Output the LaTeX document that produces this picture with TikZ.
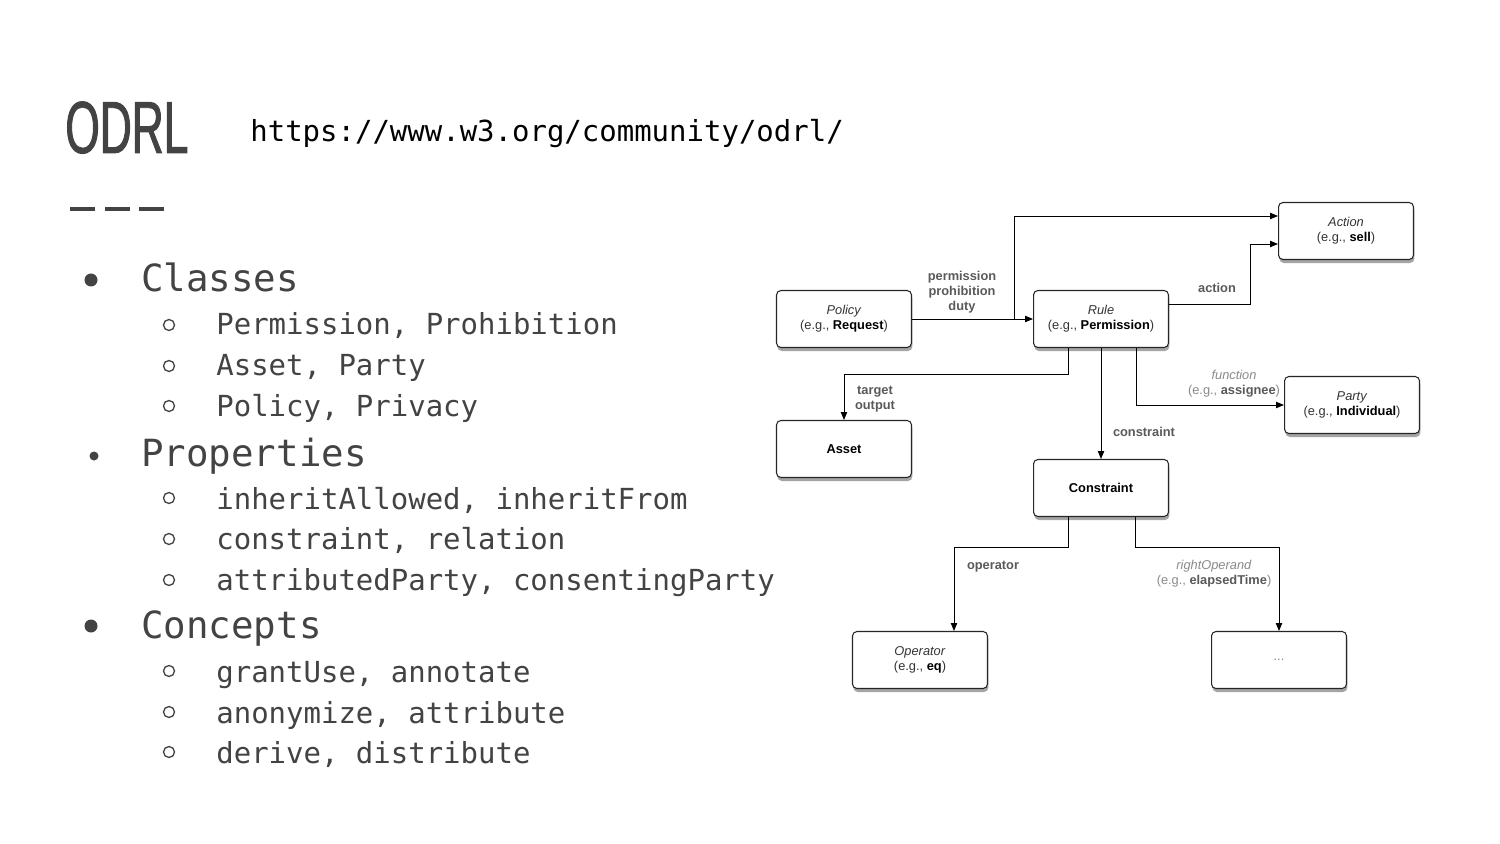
\documentclass[tikz,border=0pt]{standalone}
\usepackage{fontspec}
\setmainfont{Liberation Sans}
\newfontfamily\codefont{DejaVu Sans Mono}
\newfontfamily\titlefont[FakeStretch=0.6,FakeBold=1.2]{Liberation Sans}
\usetikzlibrary{arrows.meta,shadows,calc}
\definecolor{txt}{HTML}{434343}
\definecolor{lbl}{HTML}{5A5A5A}
\definecolor{lite}{HTML}{8A8A8A}
\definecolor{boxtxt}{HTML}{333333}
\begin{document}
\begin{tikzpicture}[x=0.02cm,y=-0.02cm,
  box/.style={draw=black!85, line width=0.6pt, rounded corners=2.5pt, fill=white,
    minimum width=2.7cm, minimum height=1.14cm, align=center, text=boxtxt,
    font=\fontsize{7.3}{8.6}\selectfont, inner sep=1pt,
    drop shadow={shadow xshift=0.5pt, shadow yshift=-2pt, opacity=0.5, fill=black!70}},
  arr/.style={draw=black, line width=0.55pt, -{Triangle[length=4.5pt,width=3.6pt]}},
  lab/.style={text=lbl, font=\fontsize{7.3}{8.5}\selectfont\bfseries, align=center, inner sep=0pt},
  ilab/.style={text=lite, font=\fontsize{7.3}{8.5}\selectfont, align=center, inner sep=0pt},
  item/.style={anchor=base west, text=txt, inner sep=0pt},
  big/.style={item, font=\codefont\fontsize{21.3}{25}\selectfont},
  small/.style={item, font=\codefont\fontsize{16.5}{20}\selectfont},
  dot/.style={fill=txt, draw=none},
  ring/.style={draw=txt, line width=0.75pt},
]
\useasboundingbox[fill=white] (0,0) rectangle (1500,844);

% title
\node[anchor=base west, inner sep=0pt, text=txt, font=\titlefont\fontsize{42}{46}\selectfont] (title) at (65,153) {ODRL};
\node[anchor=base west, inner sep=0pt, text=black, font=\codefont\fontsize{16.5}{20}\selectfont] (url) at (250,142) {https://www.w3.org/community/odrl/};
\foreach \a/\b in {70/95,105/130,139/164}
  \draw[txt, line width=2.3pt] (\a,209) -- (\b,209);

% bullets
\fill[dot] (91,280) circle (6.5);
\fill[dot] (94,456) circle (4.5);
\fill[dot] (91,626) circle (6.5);
\foreach \y in {325,366,406,498,539,580,671,712,752}
  \draw[ring] (169,\y) circle (5.5);

\node[big] (b1) at (141,292) {Classes};
\node[small] (s11) at (216,335) {Permission, Prohibition};
\node[small] (s12) at (216,376) {Asset, Party};
\node[small] (s13) at (216,416) {Policy, Privacy};
\node[big] (b2) at (141,466) {Properties};
\node[small] (s21) at (216,509) {inheritAllowed, inheritFrom};
\node[small] (s22) at (216,549) {constraint, relation};
\node[small] (s23) at (216,590) {attributedParty, consentingParty};
\node[big] (b3) at (141,638) {Concepts};
\node[small] (s31) at (216,682) {grantUse, annotate};
\node[small] (s32) at (216,723) {anonymize, attribute};
\node[small] (s33) at (216,763) {derive, distribute};

% diagram boxes
\node[box] (action) at (1346,231) {\textit{Action}\\(e.g., \textbf{\color{black}sell})};
\node[box] (policy) at (844,319) {\textit{Policy}\\(e.g., \textbf{\color{black}Request})};
\node[box] (rule) at (1101,319) {\textit{Rule}\\(e.g., \textbf{\color{black}Permission})};
\node[box] (asset) at (844,449) {\textbf{\color{black}Asset}};
\node[box] (party) at (1352,405) {\textit{Party}\\(e.g., \textbf{\color{black}Individual})};
\node[box] (constraint) at (1101,488) {\textbf{\color{black}Constraint}};
\node[box] (operator) at (920,660) {\textit{Operator}\\(e.g., \textbf{\color{black}eq})};
\node[box] (more) at (1279,660) {\textcolor{lite}{...}};

% connectors
\draw[arr] (policy) -- (rule);
\coordinate (split) at (1014,319);
\draw[arr] (split) |- ($(action.west)+(0,-15)$);
\draw[arr] ($(rule.east)+(0,-15)$) -- (1250,304) |- ($(action.west)+(0,13)$);
\draw[arr] ($(rule.south)+(-33,0)$) -- ++(0,26) -| (asset.north);
\draw[arr] (rule.south) -- (constraint.north);
\draw[arr] ($(rule.south)+(35,0)$) |- (party.west);
\draw[arr] ($(constraint.south)+(-33,0)$) -- ++(0,30) -| ($(operator.north)+(34,0)$);
\draw[arr] ($(constraint.south)+(34,0)$) -- ++(0,30) -| (more.north);

% labels
\node[lab] (lpol) at (962,292) {permission\\prohibition\\duty};
\node[lab] (lact) at (1217,288) {action};
\node[lab] (ltar) at (875,399) {target\\output};
\node[lab] (lcon) at (1144,432) {constraint};
\node[ilab] (lfun) at (1234,384) {\textit{function}\\(e.g., \textbf{\color{lbl}assignee})};
\node[lab] (lop) at (993,567) {operator};
\node[ilab] (lro) at (1214,574) {\textit{rightOperand}\\(e.g., \textbf{\color{lbl}elapsedTime})};
\end{tikzpicture}
\end{document}
